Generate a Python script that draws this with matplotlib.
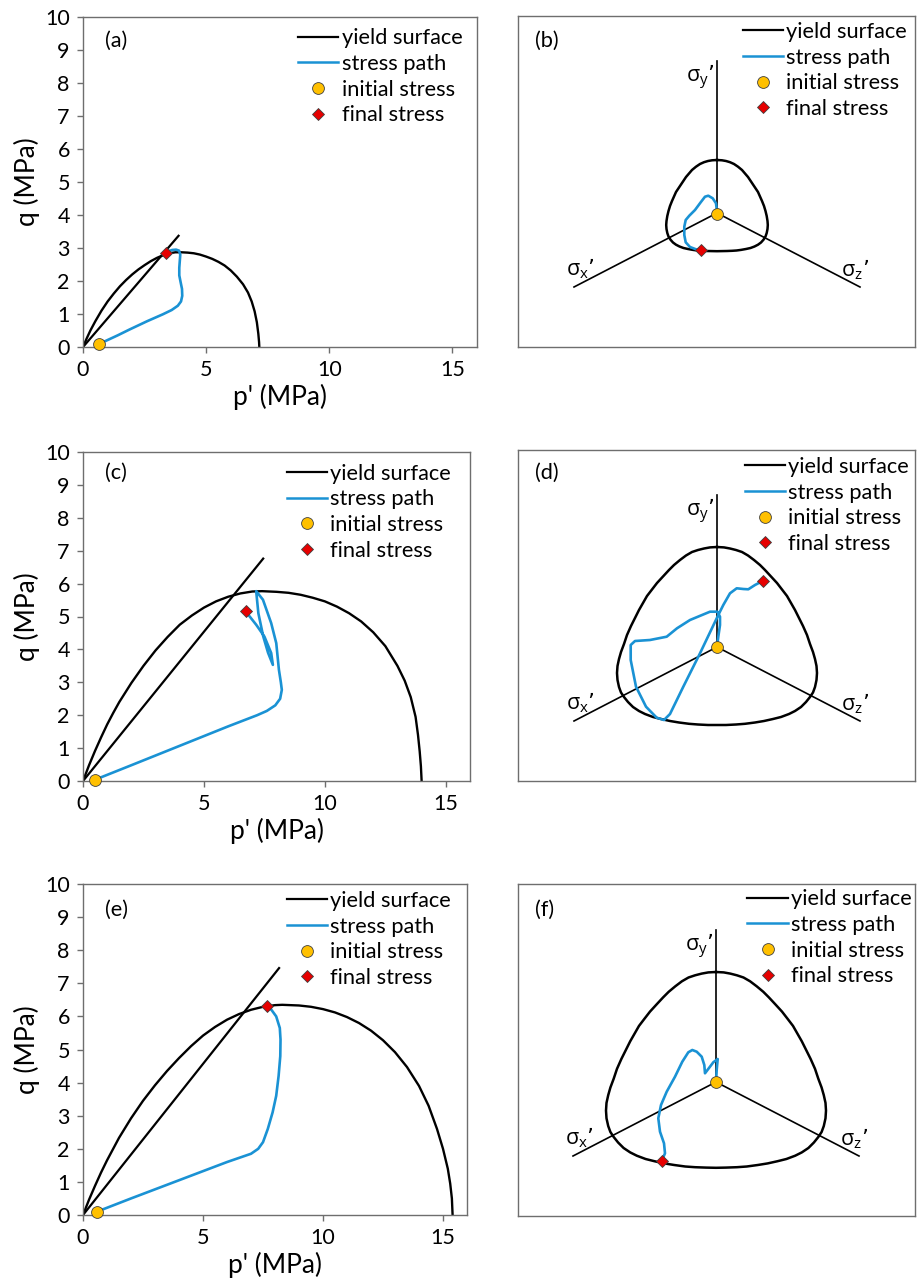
import matplotlib
matplotlib.use('Agg')
import matplotlib.pyplot as plt
from matplotlib.lines import Line2D

plt.rcParams['font.family'] = ['Lato', 'DejaVu Sans']

W, H = 917, 1286

# ---------------- data: p-q panels ----------------
a_yield_p = [0, 0.15, 0.3, 0.5, 0.75, 1.0, 1.25, 1.5, 1.75, 2.0, 2.25, 2.5, 2.75, 3.0, 3.25, 3.5, 3.75,
             4.0, 4.25, 4.5, 4.75, 5.0, 5.25, 5.5, 5.75, 6.0, 6.25, 6.5, 6.7, 6.85, 6.97, 7.06, 7.12, 7.15, 7.16]
a_yield_q = [0, 0.26, 0.50, 0.78, 1.10, 1.38, 1.62, 1.84, 2.03, 2.20, 2.35, 2.48, 2.60, 2.70, 2.78, 2.84, 2.87,
             2.87, 2.86, 2.84, 2.80, 2.74, 2.67, 2.58, 2.47, 2.32, 2.13, 1.90, 1.65, 1.38, 1.08, 0.75, 0.40, 0.15, 0]
a_csl_p = [0, 3.88]
a_csl_q = [0, 3.37]
a_path_p = [0.63, 0.88, 1.4, 1.89, 2.6, 3.24, 3.6, 3.85, 3.98, 4.03, 4.02, 3.96, 3.91, 3.91, 3.93, 3.95, 3.9, 3.78, 3.62, 3.47, 3.37]
a_path_q = [0.10, 0.17, 0.35, 0.53, 0.78, 0.99, 1.12, 1.25, 1.38, 1.55, 1.76, 1.98, 2.17, 2.40, 2.60, 2.80, 2.92, 2.95, 2.94, 2.90, 2.84]

c_yield_p = [0, 0.25, 0.5, 0.75, 1.0, 1.25, 1.5, 2.0, 2.5, 3.0, 3.5, 4.0, 4.5, 5.0, 5.5, 6.0, 6.5, 7.0, 7.4,
             8.0, 8.5, 9.0, 9.5, 10.0, 10.5, 11.0, 11.5, 12.0, 12.5, 13.0, 13.3, 13.55, 13.75, 13.85, 13.92, 13.97, 14.0]
c_yield_q = [0, 0.48, 0.92, 1.33, 1.72, 2.07, 2.40, 2.98, 3.50, 3.97, 4.38, 4.75, 5.03, 5.27, 5.46, 5.60, 5.70, 5.76, 5.77,
             5.75, 5.72, 5.66, 5.57, 5.46, 5.30, 5.10, 4.85, 4.52, 4.10, 3.50, 3.05, 2.55, 1.95, 1.40, 0.90, 0.45, 0]
c_csl_p = [0, 7.45]
c_csl_q = [0, 6.76]
c_path_p = [0.5, 2, 4, 6, 7.2, 7.6, 7.95, 8.15, 8.22, 8.18, 8.1, 7.99, 7.78, 7.44, 7.16, 7.25, 7.45, 7.65, 7.85, 7.78, 7.5, 7.16, 6.72]
c_path_q = [0.04, 0.48, 1.07, 1.66, 2.0, 2.13, 2.3, 2.5, 2.77, 3.0, 3.38, 4.19, 4.8, 5.51, 5.77, 5.1, 4.4, 3.9, 3.53, 3.89, 4.39, 4.75, 5.16]

e_yield_p = [0, 0.25, 0.5, 0.75, 1.0, 1.5, 2.0, 2.5, 3.0, 3.5, 4.0, 4.5, 5.0, 5.5, 6.0, 6.5, 7.0, 7.5, 8.0, 8.3,
             9.0, 9.5, 10.0, 10.5, 11.0, 11.5, 12.0, 12.5, 13.0, 13.5, 14.0, 14.4, 14.75, 15.0, 15.2, 15.3, 15.37, 15.4]
e_yield_q = [0, 0.46, 0.88, 1.28, 1.65, 2.33, 2.92, 3.45, 3.92, 4.35, 4.74, 5.10, 5.42, 5.68, 5.90, 6.07, 6.20, 6.29, 6.34, 6.35,
             6.33, 6.29, 6.22, 6.12, 5.98, 5.80, 5.57, 5.28, 4.92, 4.47, 3.90, 3.30, 2.60, 2.00, 1.40, 0.95, 0.50, 0]
e_csl_p = [0, 8.17]
e_csl_q = [0, 7.46]
e_path_p = [0.58, 2, 4, 6, 7.0, 7.3, 7.5, 7.7, 7.9, 8.05, 8.15, 8.22, 8.23, 8.2, 8.05, 7.85, 7.68]
e_path_q = [0.10, 0.50, 1.05, 1.60, 1.85, 2.0, 2.2, 2.6, 3.1, 3.6, 4.2, 4.8, 5.3, 5.65, 6.0, 6.2, 6.31]

# ---------------- data: pi-plane panels ----------------
b_yield_x = [0, 5, 9, 13, 17, 21, 25, 28, 31, 36, 41, 43, 45, 47, 48.5, 49.7, 50.5, 50.8, 50.5, 49.7, 48.5, 46.5, 44, 41, 37.5, 33.5, 29, 24, 19.5, 15, 10, 5, 0,
             -5, -10, -15, -19.5, -24, -29, -33.5, -37.5, -41, -44, -46.5, -48.5, -49.7, -50.5, -50.8, -50.5, -49.7, -48.5, -47, -45, -43, -41, -36, -31, -28, -25, -21, -17, -13, -9, -5, 0]
b_yield_y = [53, 52.7, 52, 50.8, 49, 46.3, 43, 39.5, 36, 28.5, 21, 16.5, 12, 7, 2, -3, -8, -12, -16, -20, -23.5, -26.7, -29.5, -31.7, -33.5, -35, -36, -36.9, -37.5, -37.8, -38, -38.1, -38.2,
             -38.1, -38, -37.8, -37.5, -36.9, -36, -35, -33.5, -31.7, -29.5, -26.7, -23.5, -20, -16, -12, -8, -3, 2, 7, 12, 16.5, 21, 28.5, 36, 39.5, 43, 46.3, 49, 50.8, 52, 52.7, 53]
b_path_x = [0.3, -1, -4.3, -8.7, -12, -16.3, -22, -27.7, -31.3, -32.7, -32.7, -31.3, -27, -21, -16]
b_path_y = [-1, 9.7, 14.7, 17.3, 16.3, 10.7, 3, -2.7, -7, -13.7, -22, -29.3, -34, -36.3, -37.3]

d_yield_x = [0, 7, 13, 19, 25, 31, 37, 43, 48, 54, 60, 65, 70, 74, 78, 82, 86, 90, 93, 96, 98, 99.5, 100, 99.5, 98, 96, 93, 89, 84, 78, 72, 64, 56, 47, 38, 28, 19, 9, 0,
             -9, -19, -28, -38, -47, -56, -64, -72, -78, -84, -89, -93, -96, -98, -99.5, -100, -99.5, -98, -96, -93, -90, -86, -82, -78, -74, -70, -65, -60, -54, -48, -43, -37, -31, -25, -19, -13, -7, 0]
d_yield_y = [100, 99.6, 98.5, 97, 95, 91.5, 87, 82, 77, 70.5, 64, 57.5, 51, 44, 37, 29, 21, 12, 3, -5, -12, -19, -26, -33, -40, -45.5, -50, -55, -60, -64, -67, -70, -72, -74, -75.5, -76.8, -77.5, -78, -78,
             -78, -77.5, -76.8, -75.5, -74, -72, -70, -67, -64, -60, -55, -50, -45.5, -40, -33, -26, -19, -12, -5, 3, 12, 21, 29, 37, 44, 51, 57.5, 64, 70.5, 77, 82, 87, 91.5, 95, 97, 98.5, 99.6, 100]
d_path_x = [0, 1.3, 3, 3, 0.3, -7, -27, -40, -50.3, -67, -82, -86.3, -86.3, -81, -71, -60.3, -53, -47,
            -33.7, -17, -4.3, 1.3, 6.3, 13, 19.7, 26.3, 31.3, 38, 46.3]
d_path_y = [0, 10.3, 22, 30.3, 35.3, 35.3, 27, 18.7, 10.3, 7, 6, 2, -13, -39.7, -59.7, -70.7, -73, -67,
            -39.7, -6.3, 20.3, 32, 42, 53.7, 58.7, 58, 57.7, 62, 66.3]

f_yield_x = [0, 7.7, 14.3, 20.9, 27.5, 34.1, 40.7, 47.3, 52.8, 59.4, 66, 71.5, 77, 81.4, 85.8, 90.2, 94.6, 99, 102.3, 105.6, 107.8, 109.5, 110, 109.5, 107.8, 105.6, 102.3, 97.9, 92.4, 85.8, 79.2, 70.4, 61.6, 51.7, 41.8, 30.8, 20.9, 9.9, 0,
             -9.9, -20.9, -30.8, -41.8, -51.7, -61.6, -70.4, -79.2, -85.8, -92.4, -97.9, -102.3, -105.6, -107.8, -109.5, -110, -109.5, -107.8, -105.6, -102.3, -99, -94.6, -90.2, -85.8, -81.4, -77, -71.5, -66, -59.4, -52.8, -47.3, -40.7, -34.1, -27.5, -20.9, -14.3, -7.7, 0]
f_yield_y = [110, 109.6, 108.4, 106.7, 104.5, 100.7, 95.7, 90.2, 84.7, 77.6, 70.4, 63.3, 56.1, 48.4, 40.7, 31.9, 23.1, 13.2, 3.3, -5.5, -13.2, -20.9, -28.6, -36.3, -44, -50, -55, -60.5, -66, -70.4, -73.7, -77, -79.2, -81.4, -83, -84.5, -85.2, -85.6, -85.8,
             -85.6, -85.2, -84.5, -83, -81.4, -79.2, -77, -73.7, -70.4, -66, -60.5, -55, -50, -44, -36.3, -28.6, -20.9, -13.2, -5.5, 3.3, 13.2, 23.1, 31.9, 40.7, 48.4, 56.1, 63.3, 70.4, 77.6, 84.7, 90.2, 95.7, 100.7, 104.5, 106.7, 108.4, 109.6, 110]
f_path_x = [0, 0.7, 1.7, -2.7, -11, -11.7, -14.3, -19.3, -23.7, -27.7, -33.7, -41, -49.3, -55, -57.7, -56, -52, -51, -54.3]
f_path_y = [0, 12, 23, 19.7, 8.7, 17, 25.3, 30.3, 32, 29.7, 20.3, 5.3, -9.7, -23, -36.3, -49.7, -61.3, -71.3, -79]

panel_letters = ['(a)', '(b)', '(c)', '(d)', '(e)', '(f)']
legend_labels = ['yield surface', 'stress path', 'initial stress', 'final stress']
x_ticks = [0, 5, 10, 15]
y_ticks = [0, 1, 2, 3, 4, 5, 6, 7, 8, 9, 10]

BLUE = '#1a92d4'
GOLD = '#FFC000'
RED = '#E60000'
SPINE = '#6e6e6e'
FS_LEG = 15.7

fig = plt.figure(figsize=(W / 100, H / 100), dpi=100)


def rect(l, r, t, b):
    return [l / W, 1 - b / H, (r - l) / W, (b - t) / H]


def add_legend(ax, x0, ytop):
    handles = [Line2D([], [], color='black', lw=1.6),
               Line2D([], [], color=BLUE, lw=1.8),
               Line2D([], [], ls='none', marker='o', ms=8.5, mfc=GOLD, mec='#404040', mew=0.6),
               Line2D([], [], ls='none', marker='D', ms=6.2, mfc=RED, mec='#404040', mew=0.6)]
    ax.legend(handles, legend_labels, loc='upper left', bbox_to_anchor=(x0, ytop),
              frameon=False, fontsize=FS_LEG, handlelength=1.85, handletextpad=0.14,
              labelspacing=0.26, borderpad=0, borderaxespad=0)


def pq_panel(r, yp, yq, cp, cq, pp, pq, letter, leg, letter_y):
    ax = fig.add_axes(r)
    ax.plot(yp, yq, color='black', lw=1.7, solid_joinstyle='round')
    ax.plot(cp, cq, color='black', lw=1.6)
    ax.plot(pp, pq, color=BLUE, lw=1.9, solid_joinstyle='round', solid_capstyle='round')
    ax.plot(pp[0], pq[0], ls='none', marker='o', ms=8.5, mfc=GOLD, mec='#404040', mew=0.6, zorder=5, clip_on=False)
    ax.plot(pp[-1], pq[-1], ls='none', marker='D', ms=6.2, mfc=RED, mec='#404040', mew=0.6, zorder=5)
    ax.set_xlim(0, 16)
    ax.set_ylim(0, 10)
    ax.set_xticks(x_ticks)
    ax.set_yticks(y_ticks)
    ax.tick_params(direction='out', length=4.5, width=1, color=SPINE, labelsize=15.5, pad=5)
    for s in ax.spines.values():
        s.set_color(SPINE)
        s.set_linewidth(1.0)
    ax.set_xlabel("p' (MPa)", fontsize=19, labelpad=3)
    ax.set_ylabel("q (MPa)", fontsize=19, labelpad=4)
    ax.text(0.057, letter_y, letter, transform=ax.transAxes, fontsize=FS_LEG, va='center', ha='left')
    add_legend(ax, *leg)
    return ax


def pi_panel(r, xlim, ylim, yx, yy, px, py, letter, leg, letter_y):
    ax = fig.add_axes(r)
    ax.set_xlim(*xlim)
    ax.set_ylim(*ylim)
    ax.set_xticks([])
    ax.set_yticks([])
    for s in ax.spines.values():
        s.set_color(SPINE)
        s.set_linewidth(1.0)
    for ex, ey in [(0, 152), (-143, -74), (143, -74)]:
        ax.plot([0, ex], [0, ey], color='black', lw=1.2)
    ax.plot(yx, yy, color='black', lw=1.8, solid_joinstyle='round')
    ax.plot(px, py, color=BLUE, lw=1.9, solid_joinstyle='round', solid_capstyle='round')
    ax.plot(px[0], py[0], ls='none', marker='o', ms=8.5, mfc=GOLD, mec='#404040', mew=0.6, zorder=5)
    ax.plot(px[-1], py[-1], ls='none', marker='D', ms=6.2, mfc=RED, mec='#404040', mew=0.6, zorder=5)
    fam = ['Open Sans', 'DejaVu Sans']
    ax.text(-17, 136, 'σ$_{\\mathregular{y}}$’', fontsize=15.5, family=fam, ha='center', va='center')
    ax.text(-137, -56, 'σ$_{\\mathregular{x}}$’', fontsize=15.5, family=fam, ha='center', va='center')
    ax.text(138, -57, 'σ$_{\\mathregular{z}}$’', fontsize=15.5, family=fam, ha='center', va='center')
    ax.text(0.043, letter_y, letter, transform=ax.transAxes, fontsize=FS_LEG, va='center', ha='left')
    add_legend(ax, *leg)
    return ax


pq_panel(rect(83, 477, 17, 347), a_yield_p, a_yield_q, a_csl_p, a_csl_q, a_path_p, a_path_q,
         panel_letters[0], (0.546, 0.966), 0.927)
pq_panel(rect(83, 470, 452, 781), c_yield_p, c_yield_q, c_csl_p, c_csl_q, c_path_p, c_path_q,
         panel_letters[2], (0.527, 0.965), 0.936)
pq_panel(rect(83, 467, 884, 1215), e_yield_p, e_yield_q, e_csl_p, e_csl_q, e_path_p, e_path_q,
         panel_letters[4], (0.530, 0.979), 0.921)

pi_panel(rect(518, 915, 16, 347), (-199, 198), (-134, 197), b_yield_x, b_yield_y, b_path_x, b_path_y,
         panel_letters[1], (0.567, 0.982), 0.924)
pi_panel(rect(518, 915, 450, 781), (-199, 198), (-134, 197), d_yield_x, d_yield_y, d_path_x, d_path_y,
         panel_letters[3], (0.572, 0.979), 0.930)
pi_panel(rect(518, 915, 884, 1216), (-198, 199), (-134, 198), f_yield_x, f_yield_y, f_path_x, f_path_y,
         panel_letters[5], (0.578, 0.984), 0.922)

fig.savefig('out.png', dpi=100)
